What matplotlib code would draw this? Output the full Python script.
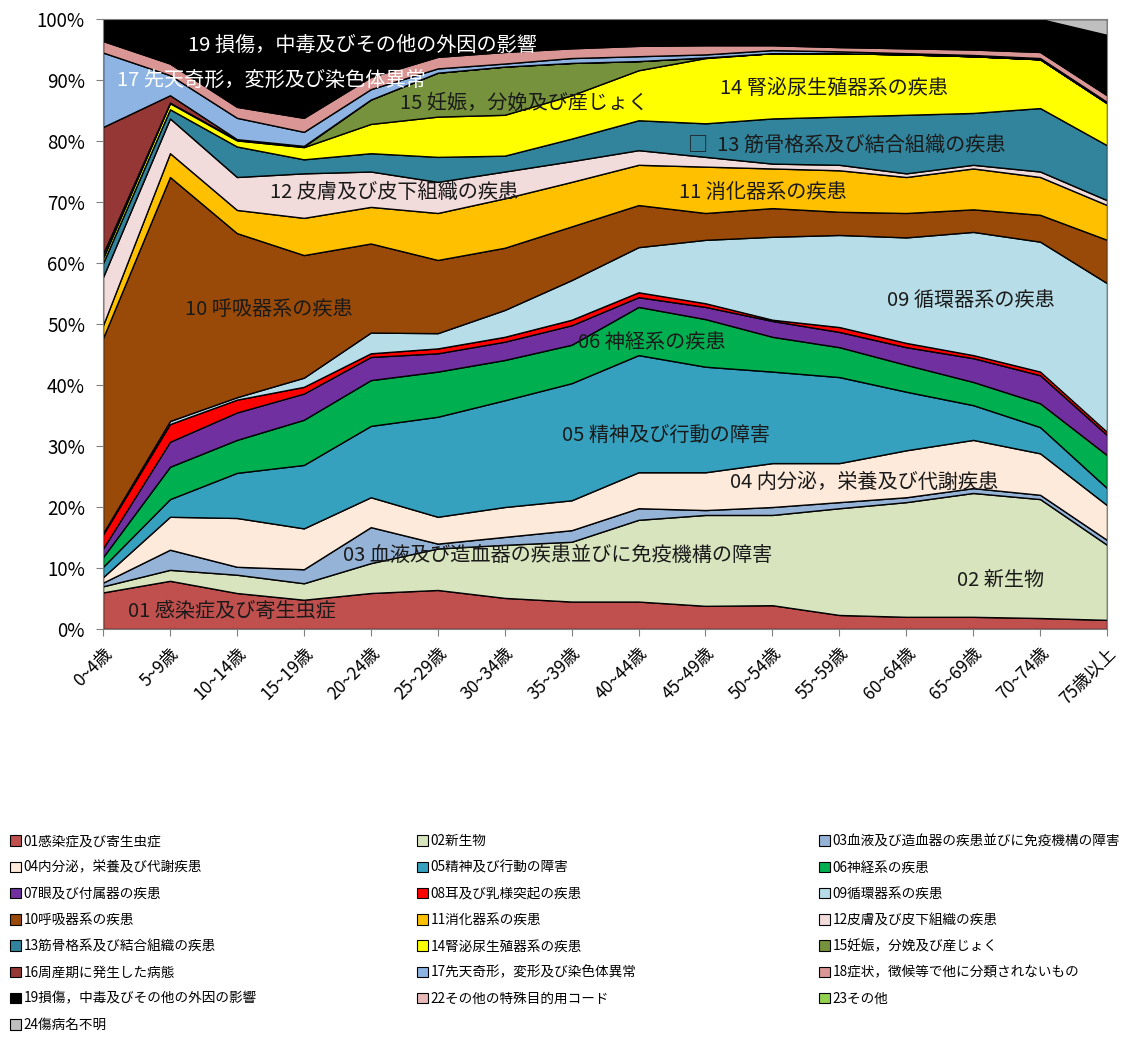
import numpy as np
import matplotlib
matplotlib.use("Agg")
from matplotlib import pyplot as plt
from matplotlib.patches import Patch

plt.rcParams['font.family'] = ['Noto Sans CJK JP', 'DejaVu Sans']

# age groups
ages = ['0~4歳', '5~9歳', '10~14歳', '15~19歳', '20~24歳', '25~29歳', '30~34歳', '35~39歳',
        '40~44歳', '45~49歳', '50~54歳', '55~59歳', '60~64歳', '65~69歳', '70~74歳', '75歳以上']

# share of each disease category (%) per age group
s01 = [6.0, 7.9, 5.9, 4.8, 5.9, 6.4, 5.1, 4.5, 4.5, 3.8, 3.9, 2.3, 2.0, 2.0, 1.8, 1.5]
s02 = [1.0, 1.8, 3.0, 2.7, 4.9, 6.8, 8.7, 9.8, 13.4, 14.9, 14.8, 17.5, 18.8, 20.3, 19.5, 12.3]
s03 = [0.6, 3.3, 1.3, 2.3, 5.9, 0.8, 1.3, 1.9, 1.9, 0.8, 1.3, 1.0, 0.8, 0.8, 0.7, 0.8]
s04 = [0.9, 5.4, 8.0, 6.7, 4.9, 4.4, 4.9, 4.9, 5.9, 6.2, 7.2, 6.4, 7.7, 7.9, 6.8, 5.7]
s05 = [1.7, 2.9, 7.4, 10.4, 11.7, 16.4, 17.5, 19.2, 19.2, 17.3, 15.0, 14.1, 9.6, 5.7, 4.3, 2.8]
s06 = [1.6, 5.3, 5.4, 7.4, 7.5, 7.4, 6.6, 6.3, 7.9, 7.8, 5.7, 4.9, 4.4, 3.8, 3.9, 5.4]
s07 = [1.4, 4.1, 4.5, 4.3, 3.8, 3.0, 3.0, 3.2, 1.6, 2.0, 2.6, 2.5, 2.9, 3.9, 4.6, 3.3]
s08 = [2.3, 2.9, 2.1, 1.1, 0.6, 0.8, 0.8, 0.9, 0.8, 0.6, 0.2, 0.8, 0.7, 0.5, 0.6, 0.5]
s09 = [0.2, 0.5, 0.4, 1.5, 3.4, 2.5, 4.4, 6.5, 7.4, 10.4, 13.6, 15.1, 17.3, 20.2, 21.3, 24.4]
s10 = [32.0, 40.0, 26.9, 20.1, 14.6, 12.0, 10.2, 8.8, 6.9, 4.4, 4.7, 3.8, 4.0, 3.7, 4.4, 7.1]
s11 = [2.1, 3.9, 3.8, 6.1, 6.0, 7.7, 8.1, 7.3, 6.6, 7.6, 6.5, 6.8, 5.9, 6.7, 6.2, 5.7]
s12 = [7.9, 5.7, 5.4, 7.3, 5.8, 5.1, 4.4, 3.4, 2.4, 1.6, 0.8, 0.9, 0.6, 0.6, 0.9, 0.8]
s13 = [2.3, 1.5, 5.0, 2.3, 3.0, 4.1, 2.6, 3.7, 4.9, 5.5, 7.4, 7.9, 9.6, 8.5, 10.4, 9.0]
s14 = [0.8, 1.0, 1.0, 2.0, 4.8, 6.6, 6.7, 7.1, 8.2, 10.7, 10.7, 10.4, 9.9, 9.3, 8.0, 6.9]
s15 = [0.7, 0.1, 0.1, 0.1, 4.0, 7.2, 7.9, 5.3, 1.5, 0.1, 0, 0, 0, 0, 0, 0]
s16 = [20.8, 1.2, 0.1, 0.1, 0, 0, 0, 0, 0, 0, 0, 0, 0, 0, 0, 0]
s17 = [12.2, 3.3, 3.5, 2.3, 1.7, 0.7, 0.5, 0.8, 0.8, 0.5, 0.5, 0.3, 0.2, 0.2, 0.2, 0.2]
s18 = [1.9, 1.9, 1.8, 2.3, 2.0, 1.9, 1.9, 1.6, 1.7, 1.5, 0.8, 0.7, 0.8, 0.9, 1.0, 1.1]
s19 = [3.6, 7.3, 14.4, 16.2, 9.5, 6.2, 5.4, 4.8, 4.4, 4.3, 4.3, 4.6, 4.8, 5.0, 5.4, 9.9]
s22 = [0] * 16
s23 = [0] * 16
s24 = [0] * 15 + [2.6]

names = ['01感染症及び寄生虫症', '02新生物', '03血液及び造血器の疾患並びに免疫機構の障害',
         '04内分泌，栄養及び代謝疾患', '05精神及び行動の障害', '06神経系の疾患',
         '07眼及び付属器の疾患', '08耳及び乳様突起の疾患', '09循環器系の疾患',
         '10呼吸器系の疾患', '11消化器系の疾患', '12皮膚及び皮下組織の疾患',
         '13筋骨格系及び結合組織の疾患', '14腎泌尿生殖器系の疾患', '15妊娠，分娩及び産じょく',
         '16周産期に発生した病態', '17先天奇形，変形及び染色体異常', '18症状，徴候等で他に分類されないもの',
         '19損傷，中毒及びその他の外因の影響', '22その他の特殊目的用コード', '23その他', '24傷病名不明']

colors = ['#C0504D', '#D7E4BD', '#95B3D7', '#FDEADA', '#35A1BF', '#00B050', '#7030A0',
          '#FF0000', '#B7DEE8', '#9A4A08', '#FFC000', '#F2DCDB', '#31849B', '#FFFF00',
          '#76923C', '#953735', '#8EB4E3', '#D99694', '#000000', '#E6B9B8', '#92D050', '#BFBFBF']

series = [s01, s02, s03, s04, s05, s06, s07, s08, s09, s10, s11, s12,
          s13, s14, s15, s16, s17, s18, s19, s22, s23, s24]

fig = plt.figure(figsize=(11.36, 10.39), dpi=100)
ax = fig.add_axes([0.0907, 0.3946, 0.8838, 0.5871])

x = np.arange(len(ages))
ax.stackplot(x, *series, colors=colors, edgecolor='black', linewidth=1.0)

ax.set_xlim(0, len(ages) - 1)
ax.set_ylim(0, 100)
ax.set_yticks(np.arange(0, 101, 10))
ax.set_yticklabels([f'{v}%' for v in range(0, 101, 10)], fontsize=13.5)
ax.set_xticks(x)
ax.set_xticklabels(ages, rotation=45, ha='right', rotation_mode='anchor', fontsize=12.5)
ax.tick_params(axis='both', color='#808080', length=5)
ax.tick_params(axis='x', pad=6)
ax.tick_params(axis='y', pad=8)
for sp in ax.spines.values():
    sp.set_color('#808080')

# labels written inside the areas
dark = '#1a1a1a'
txt = [
    (1.27, 95.7, '19 損傷，中毒及びその他の外因の影響', 'white'),
    (0.21, 90.0, '17 先天奇形，変形及び染色体異常', 'white'),
    (4.44, 86.2, '15 妊娠，分娩及び産じょく', dark),
    (9.22, 88.7, '14 腎泌尿生殖器系の疾患', dark),
    (8.74, 79.3, '□  13 筋骨格系及び結合組織の疾患', dark),
    (2.50, 71.5, '12 皮膚及び皮下組織の疾患', dark),
    (8.60, 71.6, '11 消化器系の疾患', dark),
    (1.23, 52.3, '10 呼吸器系の疾患', dark),
    (11.72, 53.9, '09 循環器系の疾患', dark),
    (7.10, 47.0, '06 神経系の疾患', dark),
    (6.86, 31.8, '05 精神及び行動の障害', dark),
    (9.37, 24.1, '04 内分泌，栄養及び代謝疾患', dark),
    (3.59, 12.1, '03 血液及び造血器の疾患並びに免疫機構の障害', dark),
    (12.76, 8.0, '02 新生物', dark),
    (0.37, 2.8, '01 感染症及び寄生虫症', dark),
]
for tx, ty, s, c in txt:
    ax.text(tx, ty, s, color=c, fontsize=14.5, va='center', ha='left')

# legend: three columns, filled row by row
handles = [Patch(facecolor=c, edgecolor='black', linewidth=0.8) for c in colors]
cols = [[0, 3, 6, 9, 12, 15, 18, 21], [1, 4, 7, 10, 13, 16, 19], [2, 5, 8, 11, 14, 17, 20]]
for xpos, idx in zip([0.009, 0.367, 0.721], cols):
    fig.legend([handles[i] for i in idx], [names[i] for i in idx],
               loc='upper left', bbox_to_anchor=(xpos, 0.197), frameon=False,
               fontsize=9.8, handlelength=0.8, handleheight=0.8, handletextpad=0.2,
               labelspacing=0.9, borderpad=0, borderaxespad=0)

fig.savefig('out.png', dpi=100)
